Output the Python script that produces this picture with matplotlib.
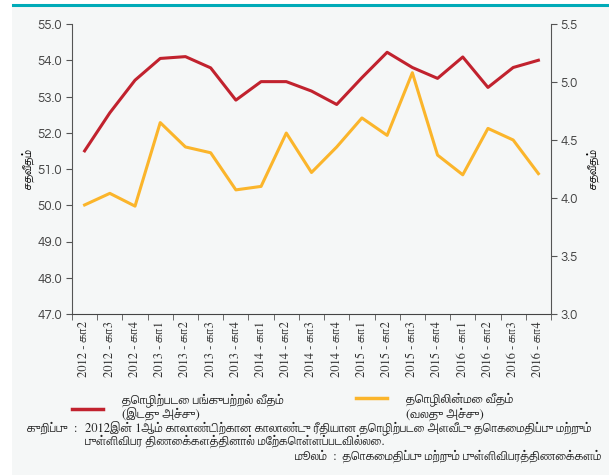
import matplotlib
matplotlib.use('Agg')
import matplotlib.pyplot as plt
from matplotlib.patches import Rectangle
from matplotlib.lines import Line2D

# காலாண்டுகள் (2012 கா2 - 2016 கா4)
years = ['2012', '2012', '2012', '2013', '2013', '2013', '2013', '2014', '2014', '2014',
         '2014', '2015', '2015', '2015', '2015', '2016', '2016', '2016', '2016']
quarters = ['கா2', 'கா3', 'கா4', 'கா1', 'கா2', 'கா3', 'கா4', 'கா1', 'கா2', 'கா3',
            'கா4', 'கா1', 'கா2', 'கா3', 'கா4', 'கா1', 'கா2', 'கா3', 'கா4']
labels = [y + ' - ' + q for y, q in zip(years, quarters)]

# தொழிற்படை பங்குபற்றல் வீதம் (இடது அச்சு)
participation = [51.50, 52.55, 53.45, 54.05, 54.10, 53.79, 52.90, 53.41, 53.41, 53.15,
                 52.78, 53.52, 54.22, 53.80, 53.50, 54.09, 53.25, 53.80, 54.00]
# தொழிலின்மை வீதம் (வலது அச்சு)
unemployment = [3.94, 4.04, 3.93, 4.65, 4.44, 4.39, 4.07, 4.10, 4.56, 4.22,
                4.44, 4.69, 4.54, 5.08, 4.37, 4.20, 4.60, 4.50, 4.21]

tamil = ['FreeSerif', 'DejaVu Serif']
num_font = ['Questrial', 'Didact Gothic', 'DejaVu Sans']
red = '#c1222e'
orange = '#fbb52b'
bg = '#f5f7f7'
axis_col = '#555555'
txt = '#222222'

fig = plt.figure(figsize=(6.09, 4.75), dpi=100)
fig.patch.set_facecolor('white')
fig.patches.append(Rectangle((12 / 609, 0), 1, 1 - 5 / 475, transform=fig.transFigure,
                             facecolor=bg, edgecolor='none', zorder=-10))
fig.add_artist(Line2D([13 / 609, 1], [1 - 5 / 475, 1 - 5 / 475], transform=fig.transFigure,
                      color='#00abb8', lw=2.2))

ax = fig.add_axes([72 / 609, 1 - 314 / 475, (551 - 72) / 609, 290 / 475])
ax.patch.set_alpha(0)
x = list(range(len(labels)))
ax.plot(x, participation, color=red, lw=2.2, zorder=3)
ax.set_ylim(47, 55)
ax.set_yticks([47 + i for i in range(9)])
ax.set_yticklabels(['%.1f' % (47 + i) for i in range(9)], family=num_font, fontsize=9.5,
                   color='#444444')
ax.set_xlim(-0.5, len(labels) - 0.5)
ax.set_xticks(x)
ax.set_xticklabels(labels, rotation=90, family=tamil, fontsize=9, color='#333333')
ax.set_xticks([i + 0.5 for i in range(-1, len(labels))], minor=True)
ax.tick_params(axis='x', which='major', length=0, pad=5)
ax.tick_params(axis='x', which='minor', length=4, color=axis_col, direction='out')
ax.tick_params(axis='y', length=4, color=axis_col, direction='out', pad=3)
ax.set_ylabel('சதவீதம்', family=tamil, fontsize=8.5, labelpad=2)
for s in ['top', 'right']:
    ax.spines[s].set_visible(False)
ax.spines['left'].set_color(axis_col)
ax.spines['bottom'].set_color('#444444')

ax2 = ax.twinx()
ax2.plot(x, unemployment, color=orange, lw=2.2, zorder=2)
ax2.set_ylim(3.0, 5.5)
ax2.set_yticks([3.0, 3.5, 4.0, 4.5, 5.0, 5.5])
ax2.set_yticklabels(['3.0', '3.5', '4.0', '4.5', '5.0', '5.5'], family=num_font, fontsize=9.5,
                    color='#444444')
ax2.tick_params(axis='y', length=4, color=axis_col, direction='out', pad=3)
ax2.set_ylabel('சதவீதம்', family=tamil, fontsize=8.5, rotation=90, labelpad=6)
for s in ['top', 'left', 'bottom']:
    ax2.spines[s].set_visible(False)
ax2.spines['right'].set_color(axis_col)

# legend
fig.add_artist(Line2D([72 / 609, 103 / 609], [1 - 409 / 475, 1 - 409 / 475],
                      transform=fig.transFigure, color=red, lw=2.5))
fig.text(122 / 609, 1 - 400 / 475, 'தொழிற்படை பங்குபற்றல் வீதம்', family=tamil, fontsize=9.4,
         va='center', ha='left', color=txt)
fig.text(122 / 609, 1 - 414 / 475, '(இடது அச்சு)', family=tamil, fontsize=9.4,
         va='center', ha='left', color=txt)
fig.add_artist(Line2D([356 / 609, 387 / 609], [1 - 398 / 475, 1 - 398 / 475],
                      transform=fig.transFigure, color=orange, lw=2.5))
fig.text(406 / 609, 1 - 399 / 475, 'தொழிலின்மை வீதம்', family=tamil, fontsize=9.4,
         va='center', ha='left', color=txt)
fig.text(406 / 609, 1 - 414 / 475, '(வலது அச்சு)', family=tamil, fontsize=9.4,
         va='center', ha='left', color=txt)

# notes
fig.text(27 / 609, 1 - 428 / 475, 'குறிப்பு  :', family=tamil, fontsize=9,
         va='center', ha='left', color=txt)
fig.text(85 / 609, 1 - 428 / 475,
         '2012இன் 1ஆம் காலாண்டிற்கான காலாண்டு ரீதியான தொழிற்படை அளவீடு தொகைமதிப்பு மற்றும்',
         family=tamil, fontsize=9, va='center', ha='left', color=txt)
fig.text(85 / 609, 1 - 441 / 475, 'புள்ளிவிபர திணைக்களத்தினால் மேற்கொள்ளப்படவில்லை.',
         family=tamil, fontsize=9, va='center', ha='left', color=txt)
fig.text(601 / 609, 1 - 456 / 475, 'மூலம்  :  தொகைமதிப்பு மற்றும் புள்ளிவிபரத்திணைக்களம்',
         family=tamil, fontsize=9, va='center', ha='right', color=txt)

fig.savefig('out.png', dpi=100, facecolor=fig.get_facecolor())
